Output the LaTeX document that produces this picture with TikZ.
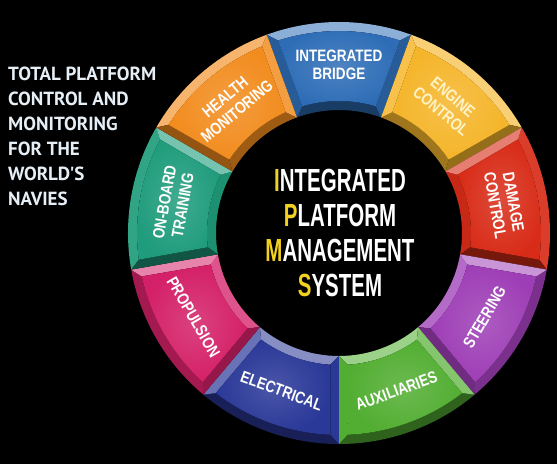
\documentclass[tikz,border=0pt]{standalone}
\usepackage{fontspec}
\setmainfont{Liberation Sans}
\newfontfamily\segfont[FakeStretch=0.82]{Liberation Sans}
\newfontfamily\cenfont[FakeStretch=0.64]{Liberation Sans}
\newfontfamily\leftfont{PT Sans}
\definecolor{cbridge}{HTML}{2E6DB6}
\definecolor{cengine}{HTML}{F5B52A}
\definecolor{cdamage}{HTML}{D82C18}
\definecolor{csteer}{HTML}{9E3EB6}
\definecolor{caux}{HTML}{52AE32}
\definecolor{celec}{HTML}{2A3898}
\definecolor{cprop}{HTML}{D42068}
\definecolor{ctrain}{HTML}{1F9C7C}
\definecolor{chealth}{HTML}{F28C1E}
\definecolor{ipmsy}{HTML}{F2D21E}
\definecolor{lefttext}{HTML}{E6EEF6}
\definecolor{paletext}{HTML}{FFF3C8}
\newcommand\setbevel[3]{%
  \pgfmathsetmacro\bvu{#3}%
  \pgfmathtruncatemacro\bvp{100-45*abs(\bvu)}%
  \ifdim\bvu pt>0pt\relax\colorlet{#1}{#2!\bvp!white}\else\colorlet{#1}{#2!\bvp!black}\fi}
\tikzset{
  seglabel/.style={align=center, inner sep=0pt,
    font=\segfont\bfseries\fontsize{16.5}{18.5}\selectfont},
}
\begin{document}
\begin{tikzpicture}[x=1pt,y=1pt]
\fill[black] (-339,-231) rectangle (218,233);
\useasboundingbox (-339,-231) rectangle (218,233);
\def\Ro{211}\def\Rf{202}\def\Rg{132}\def\Ri{123}
\foreach \ac/\col/\lab/\rot/\nm/\tc in {
  90/cbridge/{INTEGRATED\\BRIDGE}/0/bridge/white,
  50/cengine/{ENGINE\\CONTROL}/-40/engine/paletext,
  10/cdamage/{DAMAGE\\CONTROL}/-80/damage/white,
  330/csteer/{STEERING}/60/steer/white,
  290/caux/{AUXILIARIES}/20/aux/white,
  250/celec/{ELECTRICAL}/-20/elec/white,
  210/cprop/{PROPULSION}/-60/prop/white,
  170/ctrain/{ON-BOARD\\TRAINING}/80/train/white,
  130/chealth/{HEALTH\\MONITORING}/40/health/white}{
  \pgfmathsetmacro\aone{\ac-20}
  \pgfmathsetmacro\atwo{\ac+20}
  \pgfmathsetmacro\fa{\aone+2.4}
  \pgfmathsetmacro\fb{\atwo-2.4}
  \pgfmathsetmacro\ga{\aone+3.8}
  \pgfmathsetmacro\gb{\atwo-3.8}
  \setbevel{bvout}{\col}{sin(\ac)}
  \setbevel{bvin}{\col}{-sin(\ac)}
  \setbevel{bvsa}{\col}{sin(\aone-90)}
  \setbevel{bvsb}{\col}{sin(\atwo+90)}
  \fill[bvout] (\aone:\Ro) arc[start angle=\aone,end angle=\atwo,radius=\Ro pt]
     -- (\fb:\Rf) arc[start angle=\fb,end angle=\fa,radius=\Rf pt] -- cycle;
  \fill[bvin] (\aone:\Ri) arc[start angle=\aone,end angle=\atwo,radius=\Ri pt]
     -- (\gb:\Rg) arc[start angle=\gb,end angle=\ga,radius=\Rg pt] -- cycle;
  \fill[bvsa] (\aone:\Ri) -- (\aone:\Ro) -- (\fa:\Rf) -- (\ga:\Rg) -- cycle;
  \fill[bvsb] (\atwo:\Ri) -- (\atwo:\Ro) -- (\fb:\Rf) -- (\gb:\Rg) -- cycle;
  \shade[inner color=\col!85!white, outer color=\col]
     (\fa:\Rf) arc[start angle=\fa,end angle=\fb,radius=\Rf pt]
     -- (\gb:\Rg) arc[start angle=\gb,end angle=\ga,radius=\Rg pt] -- cycle;
  \node[seglabel, text=\tc, rotate=\rot] (seg\nm) at (\ac:168) {\lab};
}
\node[align=center, text=white, inner sep=0pt,
  font=\cenfont\bfseries\fontsize{32}{35}\selectfont] (title) at (1,0.5)
  {\textcolor{ipmsy}{I}NTEGRATED\\\textcolor{ipmsy}{P}LATFORM\\
   \textcolor{ipmsy}{M}ANAGEMENT\\\textcolor{ipmsy}{S}YSTEM};
\node[anchor=north west, align=left, text=lefttext, inner sep=0pt,
  font=\leftfont\bfseries\fontsize{19}{25}\selectfont] (tagline) at (-331,166)
  {TOTAL PLATFORM\\CONTROL AND\\MONITORING\\FOR THE\\WORLD'S\\NAVIES};
\end{tikzpicture}
\end{document}
